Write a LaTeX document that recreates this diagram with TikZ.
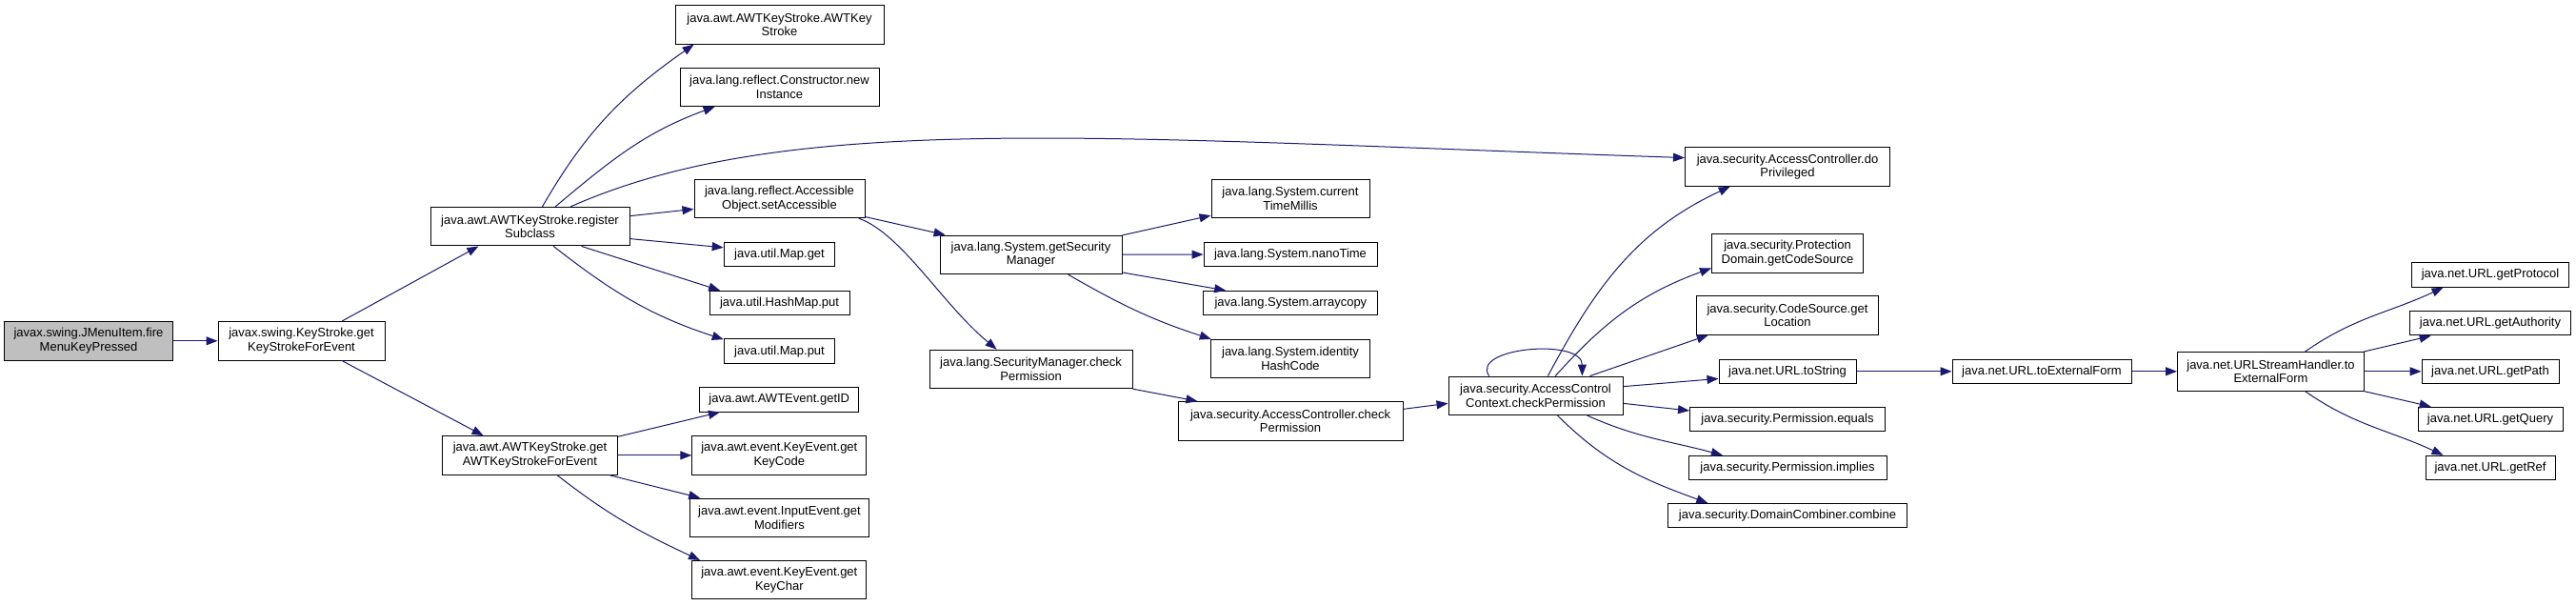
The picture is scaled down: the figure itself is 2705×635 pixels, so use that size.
\documentclass[tikz,border=0pt]{standalone}
\usepackage{fontspec}
\setmainfont{Liberation Sans}
\usepackage{tikz}
\usepackage{xcolor}
\usetikzlibrary{arrows.meta}
\definecolor{EdgeBlue}{HTML}{191970}
\definecolor{RootGray}{HTML}{BFBFBF}
\tikzstyle{callBlock}=[draw=black,fill=white,line width=1pt,inner sep=0pt,align=center,font=\fontsize{13}{14.6}\selectfont]
\tikzstyle{twoLine}=[callBlock,minimum height=40.5pt]
\tikzstyle{oneLine}=[callBlock,minimum height=25.5pt]
\tikzstyle{rootBlock}=[twoLine,fill=RootGray]
\tikzstyle{callEdge}=[-{Triangle[length=12pt,width=9pt]},EdgeBlue,line width=1pt]

\begin{document}
\begin{tikzpicture}[x=1pt,y=1pt]
        \useasboundingbox (0,0) rectangle (2705,-635);

        % Caller
        \node[rootBlock,minimum width=177pt] (fire) at (93,-357.8) {javax.swing.JMenuItem.fire\\MenuKeyPressed};
        \node[twoLine,minimum width=175pt] (ks) at (316.5,-357.8) {javax.swing.KeyStroke.get\\KeyStrokeForEvent};

        % AWTKeyStroke
        \node[twoLine,minimum width=209pt] (reg) at (556.5,-237.7) {java.awt.AWTKeyStroke.register\\Subclass};
        \node[twoLine,minimum width=184pt] (getawt) at (556.5,-477.9) {java.awt.AWTKeyStroke.get\\AWTKeyStrokeForEvent};

        % Third column
        \node[twoLine,minimum width=219pt] (awtks) at (818.5,-25.9) {java.awt.AWTKeyStroke.AWTKey\\Stroke};
        \node[twoLine,minimum width=209pt] (newinst) at (818.5,-91.3) {java.lang.reflect.Constructor.new\\Instance};
        \node[twoLine,minimum width=179pt] (setacc) at (818.5,-208.4) {java.lang.reflect.Accessible\\Object.setAccessible};
        \node[oneLine,minimum width=116.5pt] (mapget) at (818.5,-267) {java.util.Map.get};
        \node[oneLine,minimum width=147pt] (hashput) at (818.5,-318.1) {java.util.HashMap.put};
        \node[oneLine,minimum width=116.5pt] (mapput) at (818.5,-368.7) {java.util.Map.put};
        \node[oneLine,minimum width=167pt] (getid) at (818.3,-419.3) {java.awt.AWTEvent.getID};
        \node[twoLine,minimum width=183pt] (keycode) at (818.3,-477.9) {java.awt.event.KeyEvent.get\\KeyCode};
        \node[twoLine,minimum width=188pt] (modifiers) at (818.5,-543.3) {java.awt.event.InputEvent.get\\Modifiers};
        \node[twoLine,minimum width=183pt] (keychar) at (818.3,-608.7) {java.awt.event.KeyEvent.get\\KeyChar};

        % Security manager
        \node[twoLine,minimum width=191pt] (getsm) at (1082.5,-267.3) {java.lang.System.getSecurity\\Manager};
        \node[twoLine,minimum width=213pt] (smcheck) at (1082.6,-387.4) {java.lang.SecurityManager.check\\Permission};

        % System
        \node[twoLine,minimum width=166pt] (ctm) at (1355,-208.4) {java.lang.System.current\\TimeMillis};
        \node[oneLine,minimum width=182pt] (nano) at (1355,-267) {java.lang.System.nanoTime};
        \node[oneLine,minimum width=183pt] (arraycopy) at (1355.4,-318.1) {java.lang.System.arraycopy};
        \node[twoLine,minimum width=167pt] (ihc) at (1355,-376.6) {java.lang.System.identity\\HashCode};
        \node[twoLine,minimum width=236pt] (accheck) at (1355,-441.8) {java.security.AccessController.check\\Permission};

        % AccessControlContext
        \node[twoLine,minimum width=183pt] (acc) at (1612.5,-415.3) {java.security.AccessControl\\Context.checkPermission};
        \node[twoLine,minimum width=215pt] (doPriv) at (1877,-175) {java.security.AccessController.do\\Privileged};
        \node[twoLine,minimum width=159pt] (codesrc) at (1877,-265.9) {java.security.Protection\\Domain.getCodeSource};
        \node[twoLine,minimum width=191.5pt] (location) at (1877,-331) {java.security.CodeSource.get\\Location};
        \node[oneLine,minimum width=144pt] (tostring) at (1877,-389.8) {java.net.URL.toString};
        \node[oneLine,minimum width=205pt] (equals) at (1877,-440) {java.security.Permission.equals};
        \node[oneLine,minimum width=208pt] (implies) at (1877,-491) {java.security.Permission.implies};
        \node[oneLine,minimum width=251pt] (combine) at (1877,-541.2) {java.security.DomainCombiner.combine};

        % URL
        \node[oneLine,minimum width=188pt] (toext) at (2144,-389.8) {java.net.URL.toExternalForm};
        \node[twoLine,minimum width=196pt] (ush) at (2384.5,-389.8) {java.net.URLStreamHandler.to\\ExternalForm};
        \node[oneLine,minimum width=165pt] (protocol) at (2615,-288.5) {java.net.URL.getProtocol};
        \node[oneLine,minimum width=169.5pt] (authority) at (2615,-339.2) {java.net.URL.getAuthority};
        \node[oneLine,minimum width=144pt] (getpath) at (2615,-389.8) {java.net.URL.getPath};
        \node[oneLine,minimum width=152pt] (query) at (2615,-440) {java.net.URL.getQuery};
        \node[oneLine,minimum width=136pt] (getref) at (2615,-491) {java.net.URL.getRef};

        % Caller -> KeyStroke -> AWTKeyStroke
        \draw[callEdge] (fire) -- (ks);
        \draw[callEdge] (ks.26) -- (reg.201);
        \draw[callEdge] (ks.-26) -- (getawt.157);

        % registerSubclass
        \draw[callEdge] (reg.58) to[out=60,in=215] (awtks.193);
        \draw[callEdge] (reg.38) to[out=40,in=200] (newinst.197);
        \draw[callEdge] (reg.26) .. controls +(228,101) and +(-620,21) .. (doPriv.175);
        \draw[callEdge] (reg.6) -- (setacc.187);
        \draw[callEdge] (reg.-7) -- (mapget.173);
        \draw[callEdge] (reg.-21) -- (hashput.168);
        \draw[callEdge] (reg.-40) to[out=-38,in=162] (mapput.168);

        % getAWTKeyStrokeForEvent
        \draw[callEdge] (getawt.12) -- (getid.192);
        \draw[callEdge] (getawt) -- (keycode);
        \draw[callEdge] (getawt.-14) -- (modifiers.166);
        \draw[callEdge] (getawt.-36) to[out=-38,in=155] (keychar.166);

        % setAccessible
        \draw[callEdge] (setacc.-12) -- (getsm.167);
        \draw[callEdge] (setacc.-14) .. controls +(45,-16) and +(-57,47) .. (smcheck.150);

        % getSecurityManager
        \draw[callEdge] (getsm.12) -- (ctm.192);
        \draw[callEdge] (getsm) -- (nano);
        \draw[callEdge] (getsm.-11) -- (arraycopy.169);
        \draw[callEdge] (getsm.-28) to[out=-30,in=162] (ihc.166);

        % checkPermission chain
        \draw[callEdge] (smcheck.-11) -- (accheck.168);
        \draw[callEdge] (accheck.6) -- (acc.185);
        \draw[callEdge] (acc.157) .. controls +(-20,30) and +(0,40) .. (acc.23);

        % AccessControlContext.checkPermission
        \draw[callEdge] (acc.58) to[out=62,in=205] (doPriv.199);
        \draw[callEdge] (acc.45) to[out=48,in=200] (codesrc.191);
        \draw[callEdge] (acc.20) -- (location.194);
        \draw[callEdge] (acc.6) -- (tostring.186);
        \draw[callEdge] (acc.-5) -- (equals.175);
        \draw[callEdge] (acc.-21) to[out=-24,in=165] (implies.169);
        \draw[callEdge] (acc.-42) to[out=-45,in=160] (combine.171);

        % URL
        \draw[callEdge] (tostring) -- (toext);
        \draw[callEdge] (toext) -- (ush);
        \draw[callEdge] (ush.30) to[out=35,in=205] (protocol.195);
        \draw[callEdge] (ush.12) -- (authority.192);
        \draw[callEdge] (ush) -- (getpath);
        \draw[callEdge] (ush.-12) -- (query.168);
        \draw[callEdge] (ush.-30) to[out=-35,in=155] (getref.165);

    \end{tikzpicture}
\end{document}
